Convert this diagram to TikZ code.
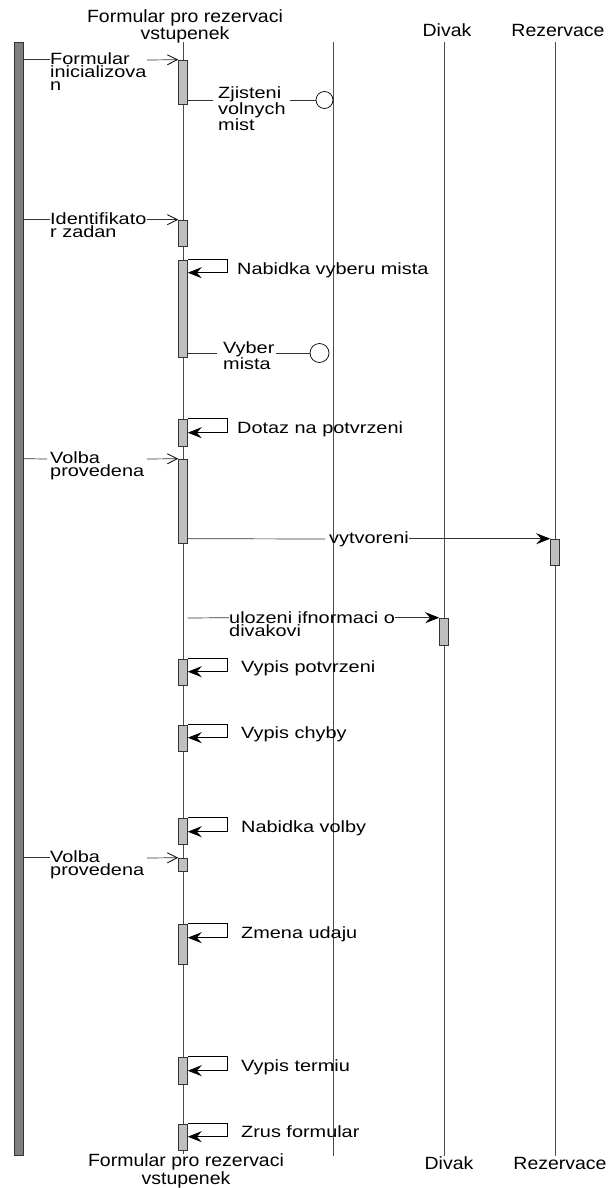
\documentclass[tikz,border=0pt]{standalone}
\usepackage{fontspec}
\setmainfont{Liberation Sans}
\newfontfamily\lblfont[FakeStretch=1.22]{Liberation Sans}
\newfontfamily\hdrfont[FakeStretch=1.1]{Liberation Sans}
\usetikzlibrary{arrows.meta}
\begin{document}
\begin{tikzpicture}[x=1pt,y=-1pt,
  lifeline/.style={draw=black!70,line width=0.8pt},
  actbox/.style={draw=black!80,fill=black!25,line width=0.6pt,minimum width=9pt,inner sep=0pt},
  actorbar/.style={draw=black!80,fill=black!50,line width=0.6pt,minimum width=9pt,inner sep=0pt},
  hdr/.style={font=\hdrfont\fontsize{17.7}{15.5}\selectfont,align=center,inner sep=0pt,anchor=base},
  lbl/.style={font=\lblfont\fontsize{16.3}{13}\selectfont,align=left,inner sep=0pt,anchor=base west},
  msg/.style={draw=black!80,line width=0.7pt},
  async/.style={draw=black!80,line width=0.7pt,-{Straight Barb[length=10pt,width=10pt,line width=0.8pt,color=black]}},
  sync/.style={draw=black!80,line width=0.7pt,-{Stealth[length=14pt,width=11pt,inset=5pt,color=black]}},
  selfmsg/.style={draw=black,line width=0.8pt,-{Stealth[length=14pt,width=11pt,inset=5pt]}},
  endcircle/.style={circle,draw=black,fill=white,line width=0.7pt,inner sep=0pt},
]
\useasboundingbox (0,0) rectangle (609,1188);

% headers
\node[hdr] (hf) at (185,40) {Formular pro rezervaci\\vstupenek};
\node[hdr] (hd) at (447,37) {Divak};
\node[hdr] (hr) at (558,37) {Rezervace};
\node[hdr] (hf2) at (186,1184) {Formular pro rezervaci\\vstupenek};
\node[hdr] (hd2) at (449,1169) {Divak};
\node[hdr] (hr2) at (560,1169) {Rezervace};

% lifelines
\coordinate (ft) at (183,42);   \coordinate (fb) at (183,1154);
\coordinate (st) at (333,42);   \coordinate (sb) at (333,1156);
\coordinate (dt) at (444,42);   \coordinate (db) at (444,1156);
\coordinate (rt) at (555,42);   \coordinate (rb) at (555,1156);
\draw[lifeline] (ft) -- (fb);
\draw[lifeline] (st) -- (sb);
\draw[lifeline] (dt) -- (db);
\draw[lifeline] (rt) -- (rb);

% actor bar
\node[actorbar,minimum height=1113pt] (actor) at (18.5,598.5) {};

% activation boxes
\node[actbox,minimum height=44pt] (b1) at (183,82) {};
\node[actbox,minimum height=26pt] (b2) at (183,233) {};
\node[actbox,minimum height=97pt] (b3) at (183,308.5) {};
\node[actbox,minimum height=27pt] (b4) at (183,432.5) {};
\node[actbox,minimum height=84pt] (b5) at (183,501) {};
\node[actbox,minimum height=26pt] (b6) at (183,672) {};
\node[actbox,minimum height=26pt] (b7) at (183,738) {};
\node[actbox,minimum height=26pt] (b8) at (183,831) {};
\node[actbox,minimum height=13pt] (b9) at (183,864.5) {};
\node[actbox,minimum height=40pt] (b10) at (183,944) {};
\node[actbox,minimum height=27pt] (b11) at (183,1070.5) {};
\node[actbox,minimum height=26pt] (b12) at (183,1137) {};
\node[actbox,minimum height=26pt] (r1) at (555,552) {};
\node[actbox,minimum height=27pt] (d1) at (444,631.5) {};

% end circles
\node[endcircle,minimum size=17pt] (c1) at (324.5,100) {};
\node[endcircle,minimum size=19pt] (c2) at (319.5,353) {};

% Formular inicializovan
\node[lbl] (l1) at (50,91) {Formular\\inicializova\\n};
\coordinate (g1) at (147,60);
\draw[msg] (actor.east |- b1.north) -- (l1.west |- b1.north);
\draw[async] (g1) -- (b1.north west);

% Zjisteni volnych mist
\node[lbl] (l2) at (218,131) {Zjisteni\\volnych\\mist};
\coordinate (g2a) at (213,100);
\coordinate (g2b) at (290,100);
\draw[msg] (b1.east |- c1) -- (g2a);
\draw[msg] (g2b) -- (c1.west);

% Identifikator zadan
\node[lbl] (l3) at (50,237) {Identifikato\\r zadan};
\draw[msg] (actor.east |- b2.north) -- (l3.west |- b2.north);
\draw[async] (l3.east |- b2.north) -- (b2.north west);

% Nabidka vyberu mista
\draw[selfmsg] (b3.north east) -- ++(40,0) -- ++(0,13) -- ++(-40,0);
\node[lbl] (l4) at (237,274) {Nabidka vyberu mista};

% Vyber mista
\node[lbl] (l5) at (223,369.5) {Vyber\\mista};
\coordinate (g5a) at (217,353);
\coordinate (g5b) at (276,353);
\draw[msg] (b3.east |- c2) -- (g5a);
\draw[msg] (g5b) -- (c2.west);

% Dotaz na potvrzeni
\draw[selfmsg] (b4.north east) -- ++(40,0) -- ++(0,14) -- ++(-40,0);
\node[lbl] (l6) at (237,433) {Dotaz na potvrzeni};

% Volba provedena
\node[lbl] (l7) at (50,476) {Volba\\provedena};
\coordinate (g7a) at (47,459);
\coordinate (g7b) at (147,459);
\draw[msg] (actor.east |- b5.north) -- (g7a);
\draw[async] (g7b) -- (b5.north west);

% vytvoreni
\node[lbl] (l8) at (329,543.5) {vytvoreni};
\coordinate (g8) at (325,539);
\draw[msg] (b5.east |- r1.north) -- (g8);
\draw[sync] (l8.east |- r1.north) -- (r1.north west);

% ulozeni ifnormaci o divakovi
\node[lbl] (l9) at (229,636) {ulozeni ifnormaci o\\divakovi};
\coordinate (u0) at (187.5,618);
\draw[msg] (u0) -- (l9.west |- d1.north);
\draw[sync] (l9.east |- d1.north) -- (d1.north west);

% Vypis potvrzeni
\draw[selfmsg] (b6.north east) -- ++(40,0) -- ++(0,13) -- ++(-40,0);
\node[lbl] (l10) at (241,672.5) {Vypis potvrzeni};

% Vypis chyby
\draw[selfmsg] (b7.north east) -- ++(40,0) -- ++(0,13) -- ++(-40,0);
\node[lbl] (l11) at (241,738.5) {Vypis chyby};

% Nabidka volby
\draw[selfmsg] (b8.north east) -- ++(40,0) -- ++(0,14) -- ++(-40,0);
\node[lbl] (l12) at (241,832.5) {Nabidka volby};

% Volba provedena 2
\node[lbl] (l13) at (50,875) {Volba\\provedena};
\coordinate (g13) at (147,858);
\draw[msg] (actor.east |- b9.north) -- (l13.west |- b9.north);
\draw[async] (g13) -- (b9.north west);

% Zmena udaju
\draw[selfmsg] (b10.north east) -- ++(40,0) -- ++(0,14) -- ++(-40,0);
\node[lbl] (l14) at (241,938) {Zmena udaju};

% Vypis termiu
\draw[selfmsg] (b11.north east) -- ++(40,0) -- ++(0,14) -- ++(-40,0);
\node[lbl] (l15) at (241,1071) {Vypis termiu};

% Zrus formular
\draw[selfmsg] (b12.north east) -- ++(40,0) -- ++(0,13) -- ++(-40,0);
\node[lbl] (l16) at (241,1137.5) {Zrus formular};
\end{tikzpicture}
\end{document}
